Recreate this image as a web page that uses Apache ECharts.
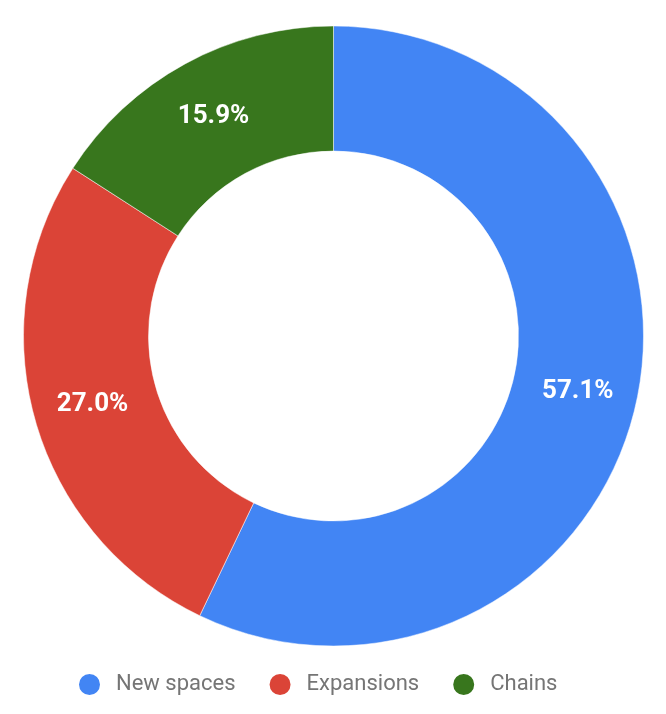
<!DOCTYPE html>
<html>
<head>
<meta charset="utf-8">
<script src="https://cdn.jsdelivr.net/npm/echarts@6/dist/echarts.min.js"></script>
<style>
  html, body { margin: 0; padding: 0; background: #fff; }
  #chart { width: 666px; height: 714px; }
</style>
</head>
<body>
<div id="chart"></div>
<script>
// data
var categories = ['New spaces', 'Expansions', 'Chains'];
var shares = [57.1, 27.0, 15.9];
var colors = ['#4285f4', '#db4437', '#38761d'];

var myChart = echarts.init(document.getElementById('chart'));

var pieData = categories.map(function (name, i) {
    return { name: name, value: shares[i], itemStyle: { color: colors[i] } };
});

var option = {
    animation: false,
    legend: {
        bottom: 12,
        left: 72,
        icon: 'circle',
        itemWidth: 23,
        itemHeight: 23,
        itemGap: 32,
        textStyle: { fontFamily: 'Roboto', fontSize: 22, color: '#757575', padding: [0, 0, 0, 10] },
        data: categories
    },
    series: [{
        type: 'pie',
        center: [333.5, 336],
        radius: [185, 310],
        startAngle: 90,
        clockwise: true,
        itemStyle: { borderColor: '#fff', borderWidth: 0.5 },
        label: {
            show: true,
            position: 'inside',
            formatter: function (p) { return p.value.toFixed(1) + '%'; },
            color: '#fff',
            fontFamily: 'Roboto',
            fontWeight: 'bold',
            fontSize: 26
        },
        labelLine: { show: false },
        emphasis: { disabled: true },
        data: pieData
    }]
};

myChart.setOption(option);
</script>
</body>
</html>
